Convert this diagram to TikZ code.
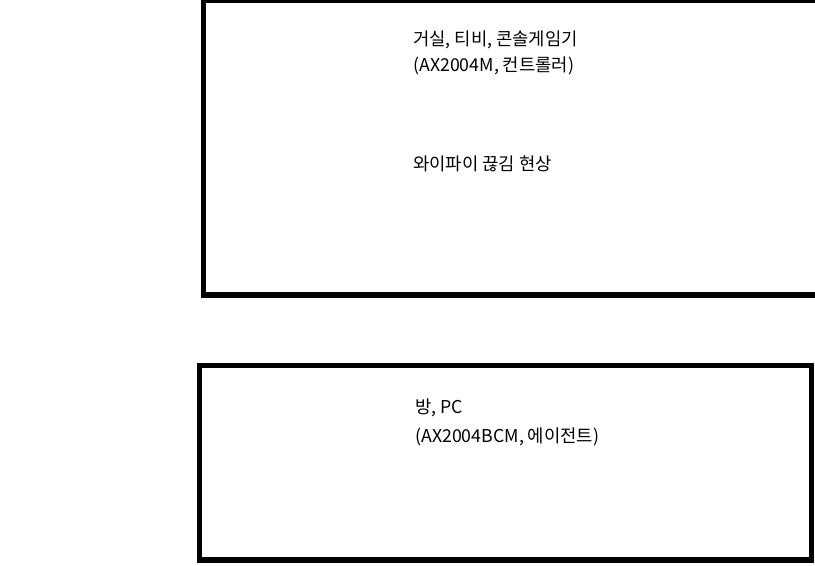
\documentclass[tikz,border=0pt]{standalone}
\usepackage{fontspec}
\setmainfont{Noto Sans CJK KR}
\begin{document}
\begin{tikzpicture}[x=0.75pt,y=-0.75pt,
  box/.style={draw=black,line width=3.8pt},
  lbl/.style={anchor=base west,inner sep=0pt,font=\fontsize{13.3pt}{16pt}\selectfont}]
\useasboundingbox (0,0) rectangle (815,566);
\clip (0,0) rectangle (815,566);
\draw[box] (203.5,0.5) rectangle (822,295) node[coordinate] (topbox) {};
\draw[box] (199.5,365.5) rectangle (811.5,560) node[coordinate] (botbox) {};
\node[lbl] (t1) at (413,45.5) {거실, 티비, 콘솔게임기};
\node[lbl] (t2) at (413,71.5) {(AX2004M, 컨트롤러)};
\node[lbl] (t3) at (413,170.5) {와이파이 끊김 현상};
\node[lbl] (b1) at (415,413.5) {방, PC};
\node[lbl] (b2) at (415,442.5) {(AX2004BCM, 에이전트)};
\end{tikzpicture}
\end{document}
